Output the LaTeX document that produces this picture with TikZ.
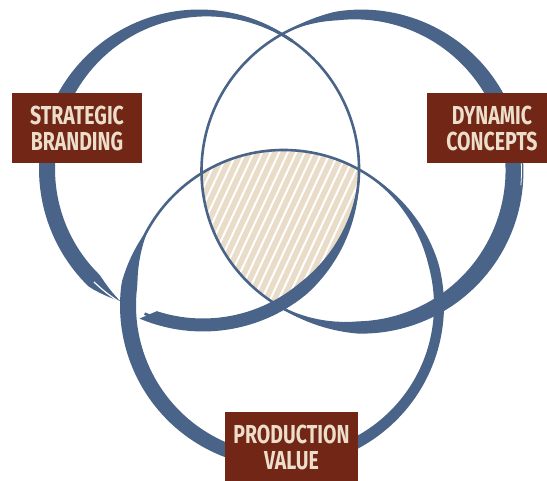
\documentclass[tikz,border=0pt]{standalone}
\usepackage{fontspec}
\newfontfamily\labelfont[FakeStretch=0.75]{Fira Sans}
\definecolor{ringblue}{RGB}{73,99,137}
\definecolor{rust}{RGB}{114,38,22}
\definecolor{cream}{RGB}{236,222,202}
\definecolor{sand}{RGB}{233,220,200}

\begin{document}
\begin{tikzpicture}[x=1pt, y=1pt,
  declare function={clampf(\t)=min(1,max(0,\t));
    wLbot(\t)=13*clampf(-\t/50);
    wLtop(\t)=(3+13*clampf((\t-60)/100))*clampf((238-\t)/12);
    wR(\t)=(11+7*cos(\t+10))*clampf((120-\t)/22)*clampf((\t+125)/35);
    wB(\t)=(13+3*cos(\t-180))*clampf((\t-150)/22)*clampf((420-\t)/45);},
  ring/.style={draw=ringblue, line width=2.6},
  brush/.style={fill=ringblue},
  tag/.style={fill=rust, text=cream, font=\labelfont\bfseries\fontsize{26}{26}\selectfont,
    align=center, minimum width=130pt, minimum height=70pt, inner sep=0pt}
]

\clip (0,0) rectangle (547,481);

\coordinate (cL) at (203,312);
\coordinate (cR) at (358,310);
\coordinate (cB) at (283.5,175.5);

\begin{scope}
  \clip (cL) circle (156);
  \clip (cR) circle (156.5);
  \clip (cB) circle (155.5);
  \fill[sand] (180,120) rectangle (380,350);
  \foreach \k in {0,...,36}
    \draw[white, line width=2] (80+\k*8.5,120) -- ++(65:260);
\end{scope}

\draw[ring] ([shift={(-112:156)}]cL) arc[start angle=-112, end angle=236, radius=156];
\draw[ring] (cR) circle (156.5);
\draw[ring] (cB) circle (155.5);

\fill[brush, shift={(cL)}]
  plot[domain=-113:0, samples=50] (\x:{156+wLbot(\x)/2})
  -- plot[domain=0:-108, samples=50] (\x:{156-wLbot(\x)/2}) -- cycle;
\fill[brush, shift={(cL)}]
  plot[domain=55:238, samples=90] (\x:{156+wLtop(\x)/2})
  -- plot[domain=238:55, samples=90] (\x:{156-wLtop(\x)/2}) -- cycle;
\draw[white, line width=1.2, shift={(cL)}]
  plot[domain=226:240, samples=10] (\x:{157});

\fill[brush, shift={(cR)}]
  plot[domain=-125:120, samples=120] (\x:{156.5+wR(\x)/2})
  -- plot[domain=120:-125, samples=120] (\x:{156.5-wR(\x)/2}) -- cycle;
\draw[white, line width=0.8, shift={(cR)}]
  plot[domain=-5:9, samples=10] (\x:{163.5});

\fill[brush, shift={(cB)}]
  plot[domain=148:420, samples=130] (\x:{155.5+wB(\x)/2})
  -- plot[domain=420:148, samples=130] (\x:{155.5-wB(\x)/2}) -- cycle;

\node[tag] (branding) at (77,353) {STRATEGIC\\BRANDING};
\node[tag] (concepts) at (492,353) {DYNAMIC\\CONCEPTS};
\node[tag, minimum width=133pt] (production) at (291.5,34) {PRODUCTION\\VALUE};

\end{tikzpicture}
\end{document}
